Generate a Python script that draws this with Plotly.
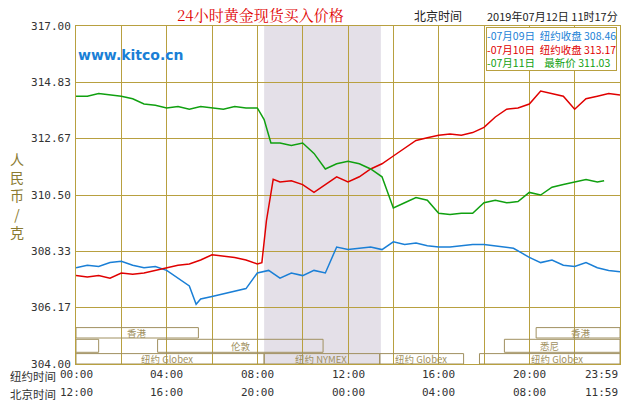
import plotly.graph_objects as go

blue_x = [0,0.5,1,1.5,2,2.5,3,3.5,4,4.5,5,5.3,5.5,6,6.5,7,7.5,8,8.5,9,9.5,10,10.5,11,11.3,11.5,12,12.5,13,13.5,14,14.5,15,15.5,16,16.5,17,17.5,18,18.5,19,19.3,19.6,20,20.5,21,21.5,22,22.5,23,23.5,24]
blue_y = [307.7,307.8,307.75,307.9,307.95,307.8,307.7,307.75,307.6,307.3,307.0,306.3,306.5,306.6,306.7,306.8,306.9,307.5,307.6,307.3,307.5,307.4,307.6,307.5,308.1,308.5,308.4,308.45,308.5,308.4,308.7,308.6,308.65,308.55,308.5,308.5,308.55,308.6,308.6,308.55,308.5,308.45,308.3,308.1,307.9,308.0,307.8,307.75,307.9,307.7,307.6,307.55]
red_x = [0,0.5,1,1.5,2,2.5,3,3.5,4,4.5,5,5.5,6,6.5,7,7.5,8,8.2,8.4,8.7,9,9.5,10,10.5,11,11.5,12,12.5,13,13.5,14,14.5,15,15.5,16,16.5,17,17.5,18,18.5,19,19.5,20,20.5,21,21.5,22,22.5,23,23.5,24]
red_y = [307.4,307.35,307.4,307.3,307.5,307.45,307.5,307.6,307.7,307.8,307.85,308.0,308.2,308.15,308.1,308.0,307.85,307.9,309.5,311.1,311.0,311.05,310.9,310.6,310.9,311.2,311.0,311.2,311.5,311.7,312.0,312.3,312.6,312.7,312.8,312.85,312.8,312.9,313.1,313.5,313.8,313.85,314.0,314.5,314.4,314.3,313.8,314.2,314.3,314.4,314.35]
green_x = [0,0.5,1,1.5,2,2.5,3,3.5,4,4.5,5,5.5,6,6.5,7,7.5,8,8.3,8.6,9,9.5,10,10.5,11,11.5,12,12.5,13,13.5,14,14.5,15,15.5,16,16.5,17,17.5,18,18.5,19,19.5,20,20.5,21,21.5,22,22.5,23,23.3]
green_y = [314.3,314.3,314.4,314.35,314.3,314.2,314.0,313.95,313.85,313.9,313.8,313.9,313.85,313.8,313.9,313.85,313.85,313.4,312.5,312.5,312.4,312.5,312.1,311.5,311.7,311.8,311.7,311.5,311.2,310.0,310.2,310.4,310.3,309.8,309.75,309.8,309.8,310.2,310.3,310.2,310.25,310.6,310.5,310.8,310.9,311.0,311.1,311.0,311.05]

y_ticks = [304.00,306.17,308.33,310.50,312.67,314.83,317.00]
x_ticks = [0,4,8,12,16,20,24]
ny_labels = ["00:00","04:00","08:00","12:00","16:00","20:00","23:59"]
bj_labels = ["12:00","16:00","20:00","00:00","04:00","08:00","11:59"]

OL = "#b8a040"
fig = go.Figure()
for x, y, c, n in [(blue_x, blue_y, "#1a7fd6", "07/09"), (red_x, red_y, "#e00000", "07/10"), (green_x, green_y, "#10a010", "07/11")]:
    fig.add_trace(go.Scatter(x=x, y=y, mode="lines", line=dict(color=c, width=1.5), name=n, showlegend=False))

shapes = [dict(type="rect", xref="x", yref="y", x0=8.3, x1=13.45, y0=304, y1=317, fillcolor="#e4e0e8", line_width=0, layer="below")]
box = dict(type="rect", xref="x", yref="y", line=dict(color="#a09060", width=1), fillcolor="rgba(0,0,0,0)")
rows = [(305.0, 305.4, [(0, 5.4, "香港", 2.7), (20.3, 24, "香港", 22.3)]),
        (304.45, 304.95, [(0, 1.0, "", 0), (3.6, 10.9, "伦敦", 7.3), (18.9, 24, "悉尼", 20.9)]),
        (304.0, 304.4, [(0, 8.3, "纽约 Globex", 4.0), (8.3, 13.4, "纽约 NYMEX", 10.8), (13.4, 17.1, "纽约 Globex", 15.2), (17.8, 24, "纽约 Globex", 21.2)])]
ann = []
for y0, y1, boxes in rows:
    for a, b, t, tx in boxes:
        shapes.append(dict(box, x0=a, x1=b, y0=y0, y1=y1))
        if t:
            ann.append(dict(x=tx, y=(y0 + y1) / 2, xref="x", yref="y", text=t, showarrow=False, font=dict(size=9.5, color="#a09060", family="Noto Sans CJK SC")))

for i, (xv, a, b) in enumerate(zip(x_ticks, ny_labels, bj_labels)):
    xa = "right" if i == len(x_ticks) - 1 else "center"
    ann.append(dict(x=xv, y=-0.006, xref="x", yref="paper", xanchor=xa, yanchor="top", text=a, showarrow=False, font=dict(size=11, color="#333", family="DejaVu Sans Mono")))
    ann.append(dict(x=xv, y=-0.06, xref="x", yref="paper", xanchor=xa, yanchor="top", text=b, showarrow=False, font=dict(size=11, color="#333", family="DejaVu Sans Mono")))
ann += [
    dict(x=-0.125, y=-0.006, xref="paper", yref="paper", xanchor="left", yanchor="top", text="纽约时间", showarrow=False, font=dict(size=11.5, color="#333", family="Noto Sans CJK SC")),
    dict(x=-0.125, y=-0.06, xref="paper", yref="paper", xanchor="left", yanchor="top", text="北京时间", showarrow=False, font=dict(size=11.5, color="#333", family="Noto Sans CJK SC")),
    dict(x=0.34, y=0.998, xref="paper", yref="paper", yanchor="bottom", text="24小时黄金现货买入价格", showarrow=False, font=dict(size=15, color="#e00000", family="Noto Serif CJK SC, Noto Sans CJK SC")),
    dict(x=0.665, y=1.0, xref="paper", yref="paper", yanchor="bottom", text="北京时间", showarrow=False, font=dict(size=12, color="#222", family="Noto Sans CJK SC")),
    dict(x=1.0, y=1.0, xref="paper", yref="paper", xanchor="right", yanchor="bottom", text="2019年07月12日 11时17分", showarrow=False, font=dict(size=11, color="#222", family="Noto Sans CJK SC")),
    dict(x=0.0, y=0.945, xref="paper", yref="paper", xanchor="left", text="<b>www.kitco.cn</b>", showarrow=False, font=dict(size=14, color="#1a7fd6", family="DejaVu Sans")),
    dict(x=-0.125, y=0.5, xref="paper", yref="paper", text="人<br>民<br>币<br>/<br>克", showarrow=False, font=dict(size=14, color="#8a7a30", family="Noto Sans CJK SC")),
    dict(x=0.994, y=0.997, xref="paper", yref="paper", xanchor="right", yanchor="top", align="left", borderpad=0, bgcolor="white", bordercolor=OL, borderwidth=1,
         text="<span style='color:#1a7fd6'>-07月09日  纽约收盘 308.46</span><br><span style='color:#e00000'>-07月10日  纽约收盘 313.17</span><br><span style='color:#10a010'>-07月11日    最新价 311.03</span>",
         showarrow=False, font=dict(size=10.5, family="Noto Sans CJK SC")),
]

fig.update_layout(
    width=630, height=400, margin=dict(l=68, r=18, t=12, b=44),
    paper_bgcolor="white", plot_bgcolor="white", shapes=shapes, annotations=ann,
    xaxis=dict(range=[0, 24], tickvals=[0,2,4,6,8,10,12,14,16,18,20,22,24], showticklabels=False, showgrid=True, gridcolor=OL, gridwidth=1, zeroline=False, showline=True, linecolor=OL, mirror=True),
    yaxis=dict(range=[304, 317], tickvals=y_ticks, ticktext=["%.2f" % v for v in y_ticks], showgrid=True, gridcolor=OL, zeroline=False, showline=True, linecolor=OL, mirror=True,
               tickfont=dict(size=11, color="#333", family="DejaVu Sans Mono"), ticks="", ticklabelstandoff=2),
)
fig.write_html("out.html")
